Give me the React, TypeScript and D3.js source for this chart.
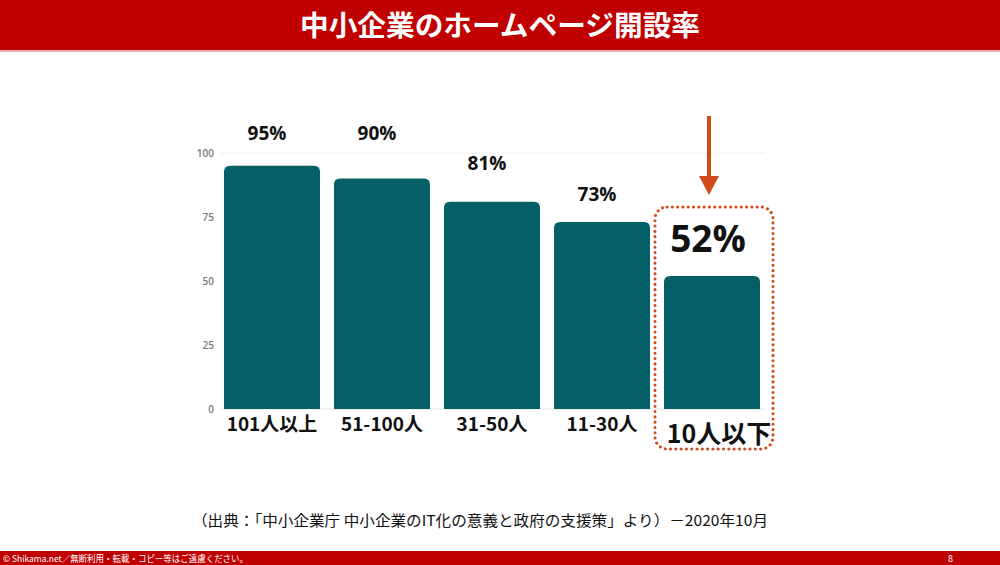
import React from "react";
import * as d3 from "d3";

const categories = ["101人以上", "51-100人", "31-50人", "11-30人", "10人以下"];
const values = [95, 90, 81, 73, 52];
const valueLabels = ["95%", "90%", "81%", "73%", "52%"];
const labelLevels = [108, 108, 96, 84, 65];
const yTicks = [0, 25, 50, 75, 100];

const W = 1000;
const H = 565;
const FONT = "'Noto Sans CJK JP', 'Noto Sans', sans-serif";
const RED = "#c00000";
const BAR = "#045f66";
const ACCENT = "#d24a1a";

function topRoundedRect(x: number, y: number, w: number, h: number, r: number) {
  const p = d3.path();
  p.moveTo(x, y + h);
  p.lineTo(x, y + r);
  p.quadraticCurveTo(x, y, x + r, y);
  p.lineTo(x + w - r, y);
  p.quadraticCurveTo(x + w, y, x + w, y + r);
  p.lineTo(x + w, y + h);
  p.closePath();
  return p.toString();
}

export default function App() {
  const x = d3
    .scaleBand<string>()
    .domain(categories)
    .range([217, 767])
    .paddingInner(0.1273)
    .paddingOuter(0.0636);
  const y = d3.scaleLinear().domain([0, 100]).range([409, 153]);
  const bw = x.bandwidth();
  const last = categories[categories.length - 1];
  const lx = x(last)!;
  const cx = lx + bw / 2;

  return (
    <svg
      width={W}
      height={H}
      style={{ position: "absolute", left: 0, top: 0, display: "block", background: "#fff" }}
    >
      {/* header */}
      <rect x={0} y={0} width={W} height={50} fill={RED} />
      <rect x={0} y={50} width={W} height={2} fill="#e8b0b0" />
      <text
        x={W / 2}
        y={36}
        textAnchor="middle"
        fill="#fff"
        fontFamily={FONT}
        fontWeight={700}
        fontSize={28}
        textLength={400}
        lengthAdjust="spacingAndGlyphs"
      >
        中小企業のホームページ開設率
      </text>

      {/* grid */}
      <line x1={220} x2={765} y1={y(100)} y2={y(100)} stroke="#f0f0ea" strokeWidth={1} />
      <line x1={220} x2={765} y1={y(0)} y2={y(0)} stroke="#e4e4e4" strokeWidth={1} />

      {/* y ticks */}
      {yTicks.map((t) => (
        <text
          key={t}
          x={214}
          y={y(t) + 4}
          textAnchor="end"
          fill="#777"
          fontFamily="'Open Sans', sans-serif"
          fontWeight={600}
          fontSize={10}
        >
          {t}
        </text>
      ))}

      {/* bars */}
      {categories.map((c, i) => (
        <path
          key={c}
          d={topRoundedRect(x(c)!, y(values[i]), bw, y(0) - y(values[i]), 6)}
          fill={BAR}
        />
      ))}

      {/* value labels */}
      {categories.map((c, i) => {
        const isLast = i === categories.length - 1;
        return (
          <text
            key={c}
            x={x(c)! + bw / 2 - (isLast ? 4 : 5)}
            y={y(labelLevels[i]) + (isLast ? 9 : 7)}
            textAnchor="middle"
            fill="#111"
            fontFamily="'Open Sans', 'Noto Sans', sans-serif"
            fontWeight={700}
            fontSize={isLast ? 37 : 19}
          >
            {valueLabels[i]}
          </text>
        );
      })}

      {/* category labels */}
      {categories.map((c, i) => {
        const isLast = i === categories.length - 1;
        return (
          <text
            key={c}
            x={x(c)! + bw / 2 + (isLast ? 7 : 0)}
            y={isLast ? 443 : 431}
            textAnchor="middle"
            fill="#111"
            fontFamily={FONT}
            fontWeight={700}
            fontSize={isLast ? 25 : 19}
          >
            {c}
          </text>
        );
      })}

      {/* highlight box */}
      <rect
        x={lx - 9}
        y={207}
        width={bw + 22}
        height={242}
        rx={12}
        fill="none"
        stroke={ACCENT}
        strokeWidth={3}
        strokeDasharray="0.1 5.2"
        strokeLinecap="round"
      />

      {/* arrow */}
      <line x1={cx - 3} x2={cx - 3} y1={116} y2={180} stroke={ACCENT} strokeWidth={4} />
      <path
        d={`M${cx - 13},${176} L${cx + 7},${176} L${cx - 3},${195} Z`}
        fill={ACCENT}
      />

      {/* source */}
      <text
        x={480}
        y={526}
        textAnchor="middle"
        fill="#111"
        fontFamily={FONT}
        fontSize={15}
        textLength={576}
        lengthAdjust="spacingAndGlyphs"
      >
        （出典：「中小企業庁 中小企業のIT化の意義と政府の支援策」より）－2020年10月
      </text>

      {/* footer */}
      <rect x={0} y={551} width={W} height={14} fill={RED} />
      <text
        x={3}
        y={562}
        fill="#fff"
        fontFamily={FONT}
        fontSize={9}
        textLength={245}
        lengthAdjust="spacingAndGlyphs"
      >
        © Shikama.net／無断利用・転載・コピー等はご遠慮ください。
      </text>
      <text x={948} y={562} fill="#fff" fontFamily={FONT} fontSize={9}>
        8
      </text>
    </svg>
  );
}
